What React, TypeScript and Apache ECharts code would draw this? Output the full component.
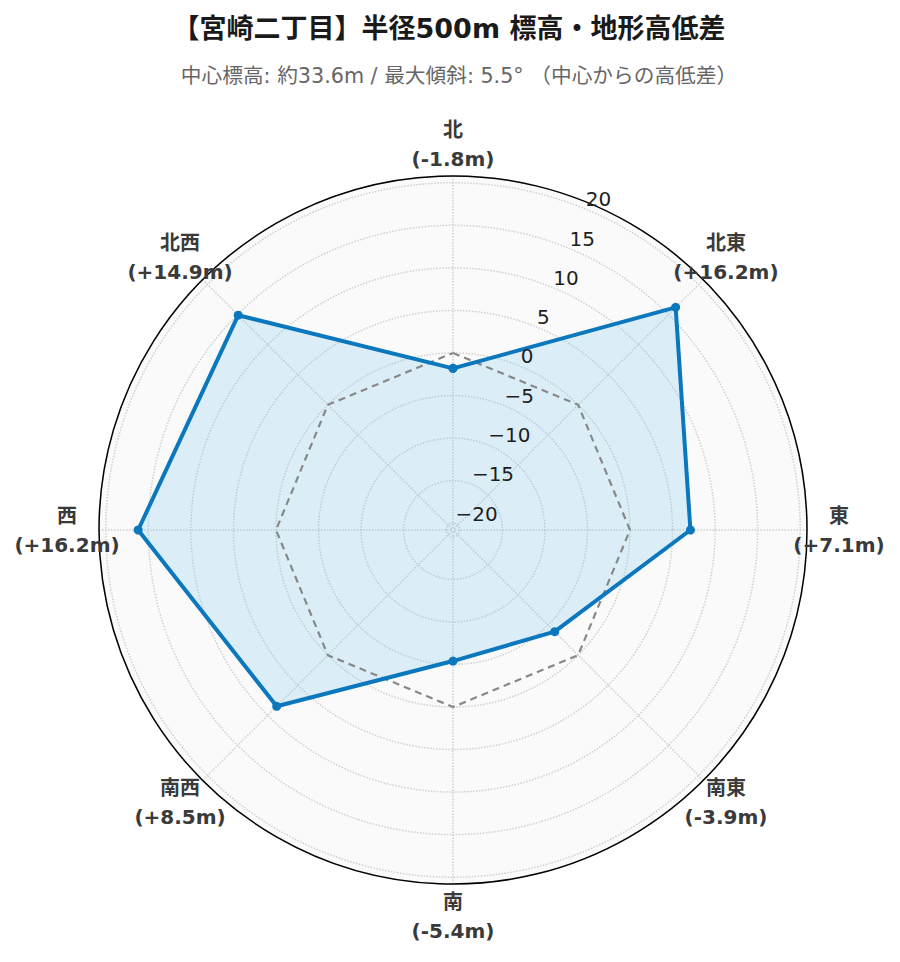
import React, { useEffect, useRef } from 'react';
import * as echarts from 'echarts';

const directions = ['北', '北東', '東', '南東', '南', '南西', '西', '北西'];
const angles = [0, 45, 90, 135, 180, 225, 270, 315];
const elevationDiff = [-1.8, 16.2, 7.1, -3.9, -5.4, 8.5, 16.2, 14.9];
const zeroRef = [0, 0, 0, 0, 0, 0, 0, 0];
const radialMin = -20.8;
const radialMax = 20.8;
const titleText = '【宮崎二丁目】半径500m 標高・地形高低差';
const subtitleText = '中心標高: 約33.6m / 最大傾斜: 5.5° （中心からの高低差）';

const font = "'DejaVu Sans', 'Noto Sans CJK JP', sans-serif";

function closed(values: number[]) {
  const pts = values.map((v, i) => [v, angles[i]]);
  pts.push([values[0], 360]);
  return pts;
}

function fmtDiff(v: number) {
  return `(${v >= 0 ? '+' : ''}${v.toFixed(1)}m)`;
}

export default function App() {
  const ref = useRef<HTMLDivElement>(null);
  useEffect(() => {
    if (!ref.current) return;
    const chart = echarts.init(ref.current, null, { renderer: 'svg' });
    const center = [445, 522];
    const radius = 354;
    const labelRadiusPx = 386;
    const labelRadiusValue = radialMin + (labelRadiusPx / radius) * (radialMax - radialMin);
    const gridLine = { color: '#d0d0d0', type: 'dotted' as const, width: 1.5 };
    chart.setOption({
      animation: false,
      backgroundColor: '#ffffff',
      title: [
        {
          text: titleText,
          left: 441,
          textAlign: 'center',
          top: 4,
          padding: 0,
          textStyle: { fontFamily: font, fontSize: 27, fontWeight: 'bold', color: '#1a1a1a', lineHeight: 32 },
        },
        {
          text: subtitleText,
          left: 451,
          textAlign: 'center',
          top: 56,
          padding: 0,
          textStyle: { fontFamily: font, fontSize: 20.7, fontWeight: 'normal', color: '#666666', lineHeight: 24 },
        },
      ],
      polar: [
        { center, radius },
        { center, radius },
      ],
      angleAxis: [
        {
          polarIndex: 0,
          type: 'value',
          min: 0,
          max: 360,
          interval: 45,
          startAngle: 90,
          clockwise: true,
          axisLine: { show: true, lineStyle: { color: '#000000', width: 1.5 } },
          axisTick: { show: false },
          axisLabel: { show: false },
          splitLine: { show: true, lineStyle: gridLine },
          splitArea: { show: false },
          z: 1,
        },
        {
          polarIndex: 1,
          type: 'value',
          min: 0,
          max: 360,
          interval: 45,
          startAngle: 67.5,
          clockwise: true,
          axisLine: { show: false },
          axisTick: { show: false },
          axisLabel: { show: false },
          splitLine: { show: false },
          splitArea: { show: true, areaStyle: { color: ['#fafafa'] } },
          z: 0,
        },
      ],
      radiusAxis: [
        {
          polarIndex: 0,
          type: 'value',
          min: radialMin,
          max: radialMax,
          splitNumber: 8,
          axisLine: { show: false },
          axisTick: { show: false },
          axisLabel: { show: false },
          splitLine: { show: true, lineStyle: gridLine },
          z: 1,
        },
        {
          polarIndex: 1,
          type: 'value',
          min: radialMin,
          max: radialMax,
          splitNumber: 8,
          axisLine: { show: false },
          axisTick: { show: false },
          splitLine: { show: false },
          axisLabel: {
            show: true,
            margin: 0,
            align: 'left',
            verticalAlign: 'bottom',
            showMinLabel: false,
            showMaxLabel: false,
            color: '#1e1e1e',
            fontSize: 20,
            fontFamily: font,
            formatter: (v: number) => (v < 0 ? '\u2212' + Math.abs(v) : String(v)),
          },
          z: 5,
        },
      ],
      series: [
        {
          type: 'line',
          coordinateSystem: 'polar',
          polarIndex: 0,
          data: closed(elevationDiff),
          symbol: 'none',
          lineStyle: { width: 0, color: '#0b77bd' },
          areaStyle: { origin: 'start', color: 'rgba(120, 200, 242, 0.34)' },
          silent: true,
          z: 2,
        },
        {
          type: 'line',
          coordinateSystem: 'polar',
          polarIndex: 0,
          data: closed(zeroRef),
          symbol: 'none',
          lineStyle: { width: 2.2, color: '#888888', type: [7, 5] },
          silent: true,
          z: 3,
        },
        {
          type: 'line',
          coordinateSystem: 'polar',
          polarIndex: 0,
          data: closed(elevationDiff),
          symbol: 'circle',
          symbolSize: 9,
          showAllSymbol: true,
          itemStyle: { color: '#0b77bd' },
          lineStyle: { width: 4, color: '#0b77bd' },
          z: 4,
        },
        {
          type: 'scatter',
          coordinateSystem: 'polar',
          polarIndex: 0,
          clip: false,
          silent: true,
          symbolSize: 0,
          itemStyle: { color: 'rgba(0,0,0,0)' },
          data: angles.map((a) => [labelRadiusValue, a]),
          label: {
            show: true,
            position: 'inside',
            align: 'center',
            verticalAlign: 'middle',
            color: '#3a3a3a',
            textBorderWidth: 0,
            opacity: 1,
            fontSize: 20,
            fontWeight: 'bold',
            fontFamily: font,
            lineHeight: 29,
            formatter: (p: any) => `${directions[p.dataIndex]}\n${fmtDiff(elevationDiff[p.dataIndex])}`,
          },
          z: 6,
        },
      ],
    });
    return () => chart.dispose();
  }, []);
  return <div ref={ref} style={{ width: 884, height: 946 }} />;
}
